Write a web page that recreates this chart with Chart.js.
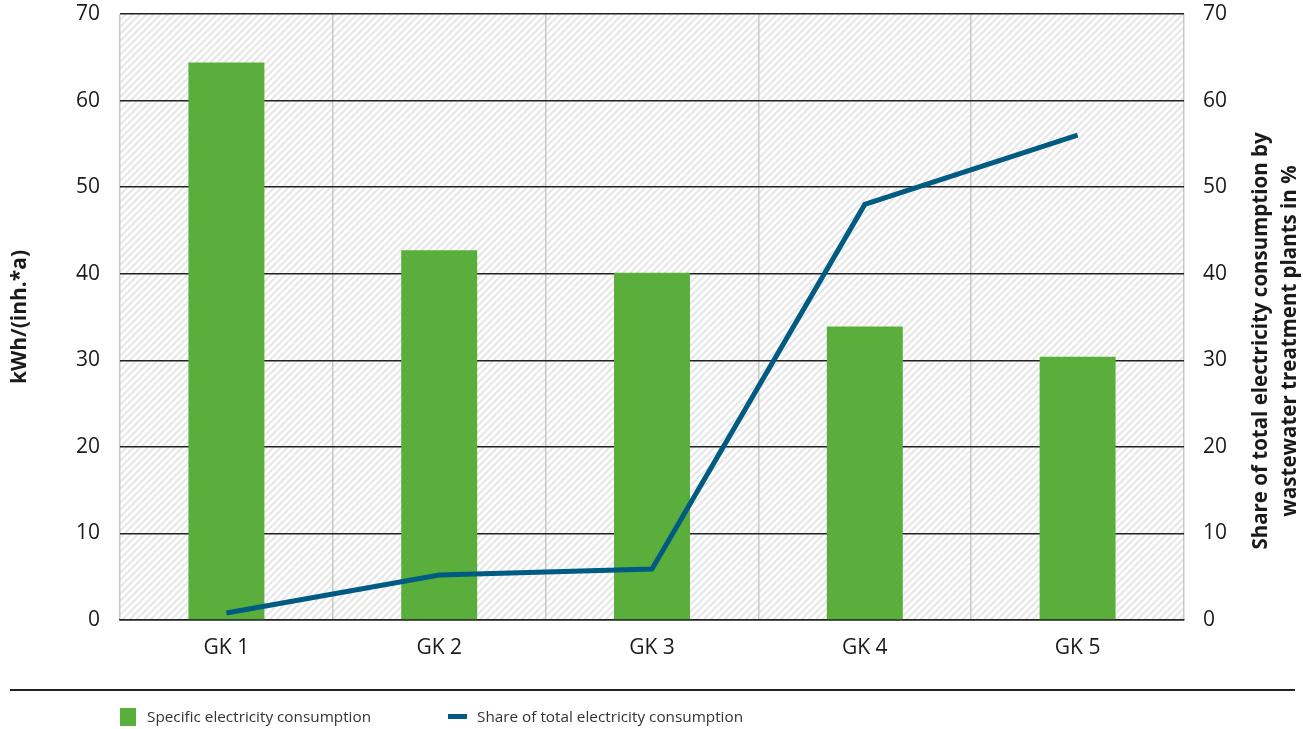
<!DOCTYPE html>
<html>
<head>
<meta charset="utf-8">
<script src="https://cdn.jsdelivr.net/npm/chart.js@4"></script>
<style>
  body { margin: 0; background: #fff; }
  #wrap { position: relative; width: 1303px; height: 729px; }
</style>
</head>
<body>
<div id="wrap"><canvas id="chart" width="1303" height="729"></canvas></div>
<script>
// data
const categories = ["GK 1", "GK 2", "GK 3", "GK 4", "GK 5"];
const specificConsumption = [64.4, 42.7, 40.1, 33.9, 30.4];   // kWh/(inh.*a)
const shareOfTotal = [0.8, 5.2, 5.9, 48.0, 56.0];              // %
const yTicks = [0, 10, 20, 30, 40, 50, 60, 70];

const leftTitle = "kWh/(inh.*a)";
const rightTitle = ["Share of total electricity consumption by", "wastewater treatment plants in %"];
const barLabel = "Specific electricity consumption";
const lineLabel = "Share of total electricity consumption";

const green = "#5aaf3c";
const blue = "#005b82";
const font = "'Open Sans', 'Noto Sans', sans-serif";

// diagonal hatch for the plot background
function makeHatch() {
  let c = document.createElement("canvas");
  c.width = 7; c.height = 7;
  let g = c.getContext("2d");
  g.fillStyle = "#fff";
  g.fillRect(0, 0, 7, 7);
  g.strokeStyle = "#e6e6e6";
  g.lineWidth = 2;
  g.beginPath();
  g.moveTo(-1, 8); g.lineTo(8, -1);
  g.moveTo(-1, 1); g.lineTo(1, -1);
  g.moveTo(6, 8); g.lineTo(8, 6);
  g.stroke();
  return c;
}

const hatchPlugin = {
  id: "hatch",
  beforeDraw(chart) {
    let a = chart.chartArea, ctx = chart.ctx;
    ctx.save();
    ctx.fillStyle = ctx.createPattern(makeHatch(), "repeat");
    ctx.fillRect(a.left, a.top, a.right - a.left, a.bottom - a.top);
    ctx.restore();
  }
};

// axis titles (right one reads bottom-up too) + legend under a rule
const extrasPlugin = {
  id: "extras",
  afterDraw(chart) {
    let ctx = chart.ctx;
    ctx.save();
    ctx.fillStyle = "#1a1a1a";
    ctx.textAlign = "center";
    ctx.textBaseline = "middle";
    ctx.font = "bold 21px " + font;

    ctx.save();
    ctx.translate(20, 317);
    ctx.rotate(-Math.PI / 2);
    ctx.fillText(leftTitle, 0, 0);
    ctx.restore();

    ctx.font = "bold 20.5px " + font;
    ctx.save();
    ctx.translate(1261, 341);
    ctx.rotate(-Math.PI / 2);
    ctx.fillText(rightTitle[0], 0, 0);
    ctx.fillText(rightTitle[1], 0, 29);
    ctx.restore();

    // rule
    ctx.strokeStyle = "#222";
    ctx.lineWidth = 2;
    ctx.beginPath();
    ctx.moveTo(10, 690); ctx.lineTo(1295, 690);
    ctx.stroke();

    // legend
    ctx.font = "15.3px " + font;
    ctx.textAlign = "left";
    ctx.fillStyle = green;
    ctx.fillRect(120, 708, 16, 18);
    ctx.fillStyle = "#333";
    ctx.fillText(barLabel, 147, 718);
    ctx.fillStyle = blue;
    ctx.fillRect(448, 714, 19, 5);
    ctx.fillStyle = "#333";
    ctx.fillText(lineLabel, 477, 718);
    ctx.restore();
  }
};

new Chart(document.getElementById("chart"), {
  data: {
    labels: categories,
    datasets: [
      {
        type: "line",
        label: lineLabel,
        data: shareOfTotal,
        yAxisID: "y2",
        borderColor: blue,
        borderWidth: 5,
        pointRadius: 0,
        tension: 0,
        order: 0
      },
      {
        type: "bar",
        label: barLabel,
        data: specificConsumption,
        yAxisID: "y",
        backgroundColor: green,
        barPercentage: 0.357,
        categoryPercentage: 1,
        order: 1
      }
    ]
  },
  options: {
    responsive: false,
    animation: false,
    layout: { padding: { top: 14, bottom: 69, left: 0, right: 0 } },
    plugins: { legend: { display: false }, tooltip: { enabled: false } },
    scales: {
      x: {
        grid: { color: "#c8c8c8", lineWidth: 1.5, drawTicks: false, offset: true },
        border: { display: true, color: "#222", width: 1.5 },
        ticks: { color: "#1a1a1a", font: { family: font, size: 21 }, padding: 15 },
        afterFit(s) { s.height = 40; s.paddingLeft = 0; s.paddingRight = 0; }
      },
      y: {
        position: "left",
        min: 0, max: 70,
        afterBuildTicks(s) { s.ticks = yTicks.map(v => ({ value: v })); },
        grid: { color: "#222", lineWidth: 1.5, drawTicks: false },
        border: { display: false },
        ticks: { color: "#1a1a1a", font: { family: font, size: 21 }, padding: 20 },
        afterFit(s) { s.width = 120; s.paddingTop = 0; s.paddingBottom = 0; }
      },
      y2: {
        position: "right",
        min: 0, max: 70,
        afterBuildTicks(s) { s.ticks = yTicks.map(v => ({ value: v })); },
        grid: { display: false, drawTicks: false },
        border: { display: false },
        ticks: { color: "#1a1a1a", font: { family: font, size: 21 }, padding: 19 },
        afterFit(s) { s.width = 119; s.paddingTop = 0; s.paddingBottom = 0; }
      }
    }
  },
  plugins: [hatchPlugin, extrasPlugin]
});
</script>
</body>
</html>
